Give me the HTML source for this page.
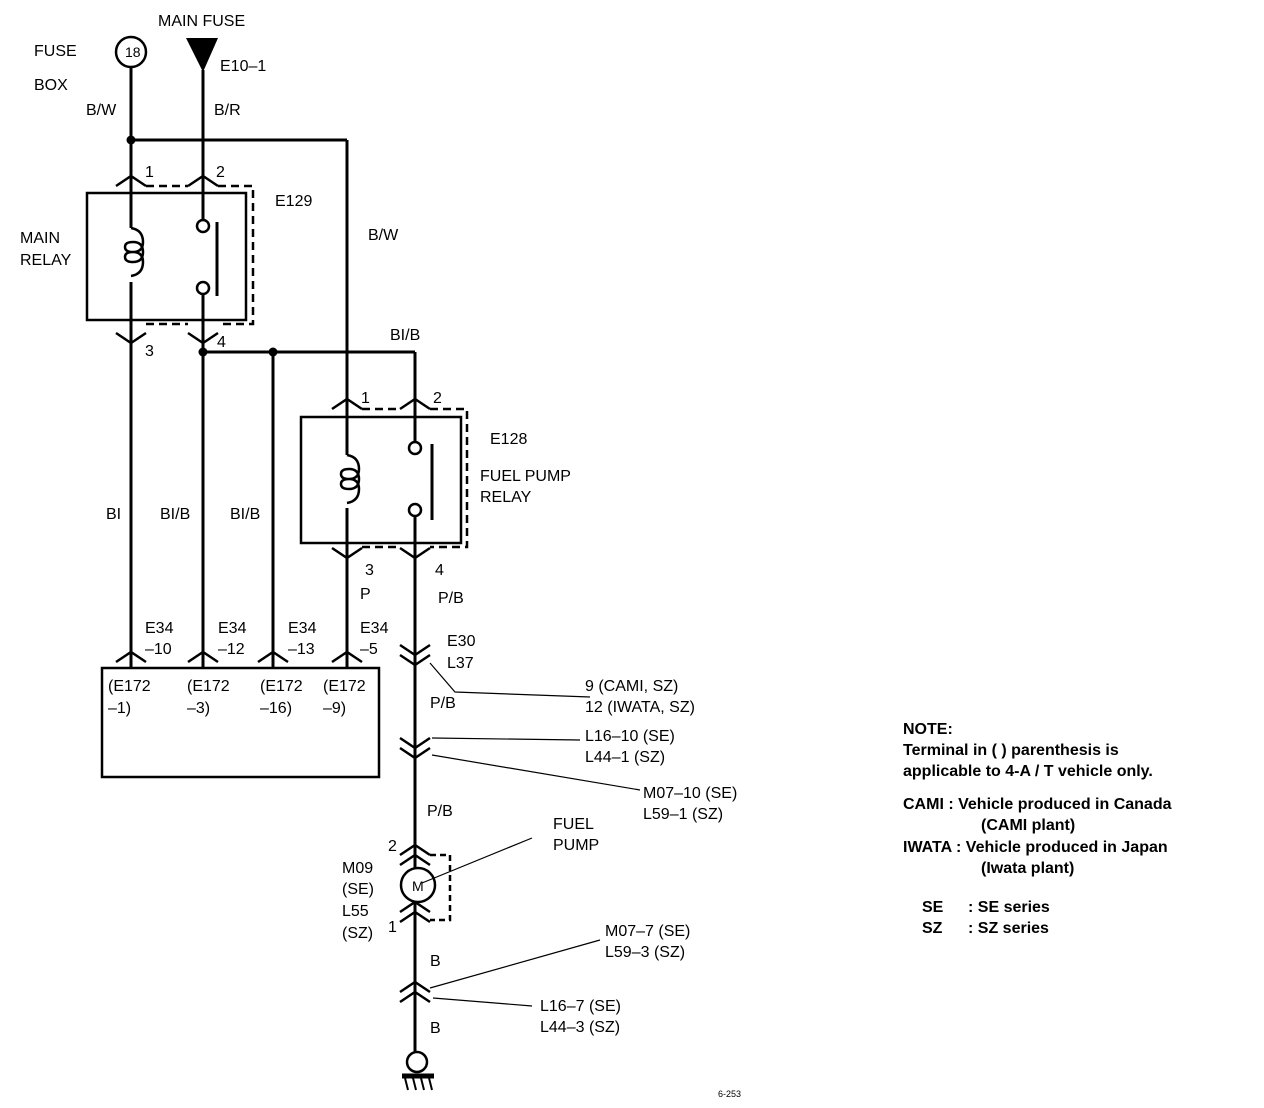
<!DOCTYPE html>
<html><head><meta charset="utf-8"><style>
html,body{margin:0;padding:0;background:#fff}
svg{display:block}
text{font-family:"Liberation Sans",sans-serif;font-size:16px;fill:#000}
.b{font-weight:bold}
</style></head><body>
<svg width="1264" height="1108" viewBox="0 0 1264 1108" xmlns="http://www.w3.org/2000/svg">
<g stroke="#000" stroke-width="3" fill="none">
<circle cx="131" cy="52" r="15" stroke-width="2.5"/>
<line x1="131" y1="67" x2="131" y2="228"/>
<line x1="131" y1="282" x2="131" y2="668"/>
<polygon points="186,38 218,38 203,72" fill="#000" stroke="none"/>
<line x1="203" y1="70" x2="203" y2="220"/>
<line x1="131" y1="140" x2="347" y2="140"/>
<line x1="347" y1="140" x2="347" y2="455"/>
<polyline points="116,186 131,176 146,186" stroke-width="2.5"/>
<polyline points="188,186 203,176 218,186" stroke-width="2.5"/>
<polyline points="146,186 188,186" stroke-dasharray="8,5" stroke-width="2.5"/>
<polyline points="218,186 253,186 253,324 218,324" stroke-dasharray="8,5" stroke-width="2.5"/>
<polyline points="146,324 188,324" stroke-dasharray="8,5" stroke-width="2.5"/>
<rect x="87" y="193" width="159" height="127" stroke-width="2.5"/>
<polyline points="116,333 131,343 146,333" stroke-width="2.5"/>
<polyline points="188,333 203,343 218,333" stroke-width="2.5"/>
<path d="M131,228 q12,2 12,14 q0,10 -10,10 q-8,0 -8,-5 q0,-5 8,-5 q10,0 10,10 q0,10 -10,10 q-8,0 -8,-5 q0,-5 8,-5 q10,0 10,10 q0,12 -12,14" stroke-width="2.5"/>
<circle cx="203" cy="226" r="6" stroke-width="2.5" fill="#fff"/>
<circle cx="203" cy="288" r="6" stroke-width="2.5" fill="#fff"/>
<line x1="203" y1="294" x2="203" y2="668"/>
<line x1="217" y1="222" x2="217" y2="296"/>
<line x1="203" y1="352" x2="415" y2="352"/>
<line x1="273" y1="352" x2="273" y2="668"/>
<line x1="415" y1="352" x2="415" y2="442"/>
<polyline points="332,409 347,399 362,409" stroke-width="2.5"/>
<polyline points="400,409 415,399 430,409" stroke-width="2.5"/>
<line x1="362" y1="409" x2="400" y2="409" stroke-dasharray="8,5" stroke-width="2.5"/>
<polyline points="430,409 467,409 467,547 430,547" stroke-dasharray="8,5" stroke-width="2.5"/>
<line x1="362" y1="547" x2="400" y2="547" stroke-dasharray="8,5" stroke-width="2.5"/>
<rect x="301" y="417" width="160" height="126" stroke-width="2.5"/>
<path d="M347,455 q12,2 12,14 q0,10 -10,10 q-8,0 -8,-5 q0,-5 8,-5 q10,0 10,10 q0,10 -10,10 q-8,0 -8,-5 q0,-5 8,-5 q10,0 10,10 q0,12 -12,14" stroke-width="2.5"/>
<line x1="347" y1="508" x2="347" y2="668"/>
<circle cx="415" cy="448" r="6" stroke-width="2.5" fill="#fff"/>
<circle cx="415" cy="510" r="6" stroke-width="2.5" fill="#fff"/>
<line x1="432" y1="444" x2="432" y2="520"/>
<polyline points="332,548 347,558 362,548" stroke-width="2.5"/>
<polyline points="400,548 415,558 430,548" stroke-width="2.5"/>
<line x1="415" y1="516" x2="415" y2="1052"/>
<polyline points="116,662 131,652 146,662" stroke-width="2.5"/>
<polyline points="188,662 203,652 218,662" stroke-width="2.5"/>
<polyline points="258,662 273,652 288,662" stroke-width="2.5"/>
<polyline points="332,662 347,652 362,662" stroke-width="2.5"/>
<rect x="102" y="668" width="277" height="109" stroke-width="2.5" fill="#fff"/>
<polyline points="400,645 415,655 430,645" stroke-width="2.5"/>
<polyline points="400,655 415,665 430,655" stroke-width="2.5"/>
<polyline points="400,738 415,748 430,738" stroke-width="2.5"/>
<polyline points="400,748 415,758 430,748" stroke-width="2.5"/>
<polyline points="400,855 415,845 430,855" stroke-width="2.5"/>
<polyline points="400,865 415,855 430,865" stroke-width="2.5"/>
<polyline points="430,855 450,855 450,920 430,920" stroke-dasharray="6,4" stroke-width="2.5"/>
<circle cx="418" cy="885" r="17" stroke-width="2.5" fill="#fff"/>
<polyline points="400,912 415,902 430,912" stroke-width="2.5"/>
<polyline points="400,922 415,912 430,922" stroke-width="2.5"/>
<polyline points="400,992 415,982 430,992" stroke-width="2.5"/>
<polyline points="400,1002 415,992 430,1002" stroke-width="2.5"/>
<circle cx="417" cy="1062" r="10" stroke-width="2.5" fill="#fff"/>
<line x1="402" y1="1076" x2="434" y2="1076" stroke-width="5"/>
<line x1="405" y1="1078" x2="408" y2="1090" stroke-width="2"/>
<line x1="413" y1="1078" x2="416" y2="1090" stroke-width="2"/>
<line x1="421" y1="1078" x2="424" y2="1090" stroke-width="2"/>
<line x1="429" y1="1078" x2="432" y2="1090" stroke-width="2"/>
</g>
<g stroke="#000" stroke-width="1.2" fill="none">
<polyline points="430,663 455,692 590,697"/>
<line x1="432" y1="738" x2="580" y2="740"/>
<line x1="432" y1="755" x2="640" y2="790"/>
<line x1="422" y1="883" x2="532" y2="838"/>
<line x1="430" y1="988" x2="600" y2="940"/>
<line x1="433" y1="998" x2="532" y2="1006"/>
</g>
<g fill="#000">
<circle cx="131" cy="140" r="4.5"/>
<circle cx="203" cy="352" r="4.5"/>
<circle cx="273" cy="352" r="4.5"/>
</g>
<text x="125" y="57" style="font-size:14px">18</text>
<text x="34" y="56">FUSE</text>
<text x="34" y="90">BOX</text>
<text x="158" y="26">MAIN FUSE</text>
<text x="220" y="71">E10–1</text>
<text x="86" y="115">B/W</text>
<text x="214" y="115">B/R</text>
<text x="145" y="177">1</text>
<text x="216" y="177">2</text>
<text x="275" y="206">E129</text>
<text x="20" y="243">MAIN</text>
<text x="20" y="265">RELAY</text>
<text x="368" y="240">B/W</text>
<text x="145" y="356">3</text>
<text x="217" y="347">4</text>
<text x="390" y="340">BI/B</text>
<text x="361" y="403">1</text>
<text x="433" y="403">2</text>
<text x="490" y="444">E128</text>
<text x="480" y="481">FUEL PUMP</text>
<text x="480" y="502">RELAY</text>
<text x="106" y="519">BI</text>
<text x="160" y="519">BI/B</text>
<text x="230" y="519">BI/B</text>
<text x="365" y="575">3</text>
<text x="435" y="575">4</text>
<text x="360" y="599">P</text>
<text x="438" y="603">P/B</text>
<text x="145" y="633">E34</text><text x="145" y="654">–10</text>
<text x="218" y="633">E34</text><text x="218" y="654">–12</text>
<text x="288" y="633">E34</text><text x="288" y="654">–13</text>
<text x="360" y="633">E34</text><text x="360" y="654">–5</text>
<text x="108" y="691">(E172</text><text x="108" y="713">–1)</text>
<text x="187" y="691">(E172</text><text x="187" y="713">–3)</text>
<text x="260" y="691">(E172</text><text x="260" y="713">–16)</text>
<text x="323" y="691">(E172</text><text x="323" y="713">–9)</text>
<text x="447" y="646">E30</text>
<text x="447" y="668">L37</text>
<text x="430" y="708">P/B</text>
<text x="585" y="691">9 (CAMI, SZ)</text>
<text x="585" y="712">12 (IWATA, SZ)</text>
<text x="585" y="741">L16–10 (SE)</text>
<text x="585" y="762">L44–1 (SZ)</text>
<text x="643" y="798">M07–10 (SE)</text>
<text x="643" y="819">L59–1 (SZ)</text>
<text x="427" y="816">P/B</text>
<text x="553" y="829">FUEL</text>
<text x="553" y="850">PUMP</text>
<text x="388" y="851">2</text>
<text x="342" y="873">M09</text>
<text x="342" y="894">(SE)</text>
<text x="342" y="916">L55</text>
<text x="342" y="938">(SZ)</text>
<text x="388" y="932">1</text>
<text x="412" y="891" style="font-size:14px">M</text>
<text x="430" y="966">B</text>
<text x="605" y="936">M07–7 (SE)</text>
<text x="605" y="957">L59–3 (SZ)</text>
<text x="540" y="1011">L16–7 (SE)</text>
<text x="540" y="1032">L44–3 (SZ)</text>
<text x="430" y="1033">B</text>
<text x="718" y="1097" style="font-size:9px">6-253</text>
<text x="903" y="734" class="b">NOTE:</text>
<text x="903" y="755" class="b">Terminal in (    ) parenthesis is</text>
<text x="903" y="776" class="b">applicable to 4-A / T vehicle only.</text>
<text x="903" y="809" class="b">CAMI   : Vehicle produced in Canada</text>
<text x="981" y="830" class="b">(CAMI plant)</text>
<text x="903" y="852" class="b">IWATA : Vehicle produced in Japan</text>
<text x="981" y="873" class="b">(Iwata plant)</text>
<text x="922" y="912" class="b">SE</text><text x="968" y="912" class="b">: SE series</text>
<text x="922" y="933" class="b">SZ</text><text x="968" y="933" class="b">: SZ series</text>
</svg>
</body></html>
